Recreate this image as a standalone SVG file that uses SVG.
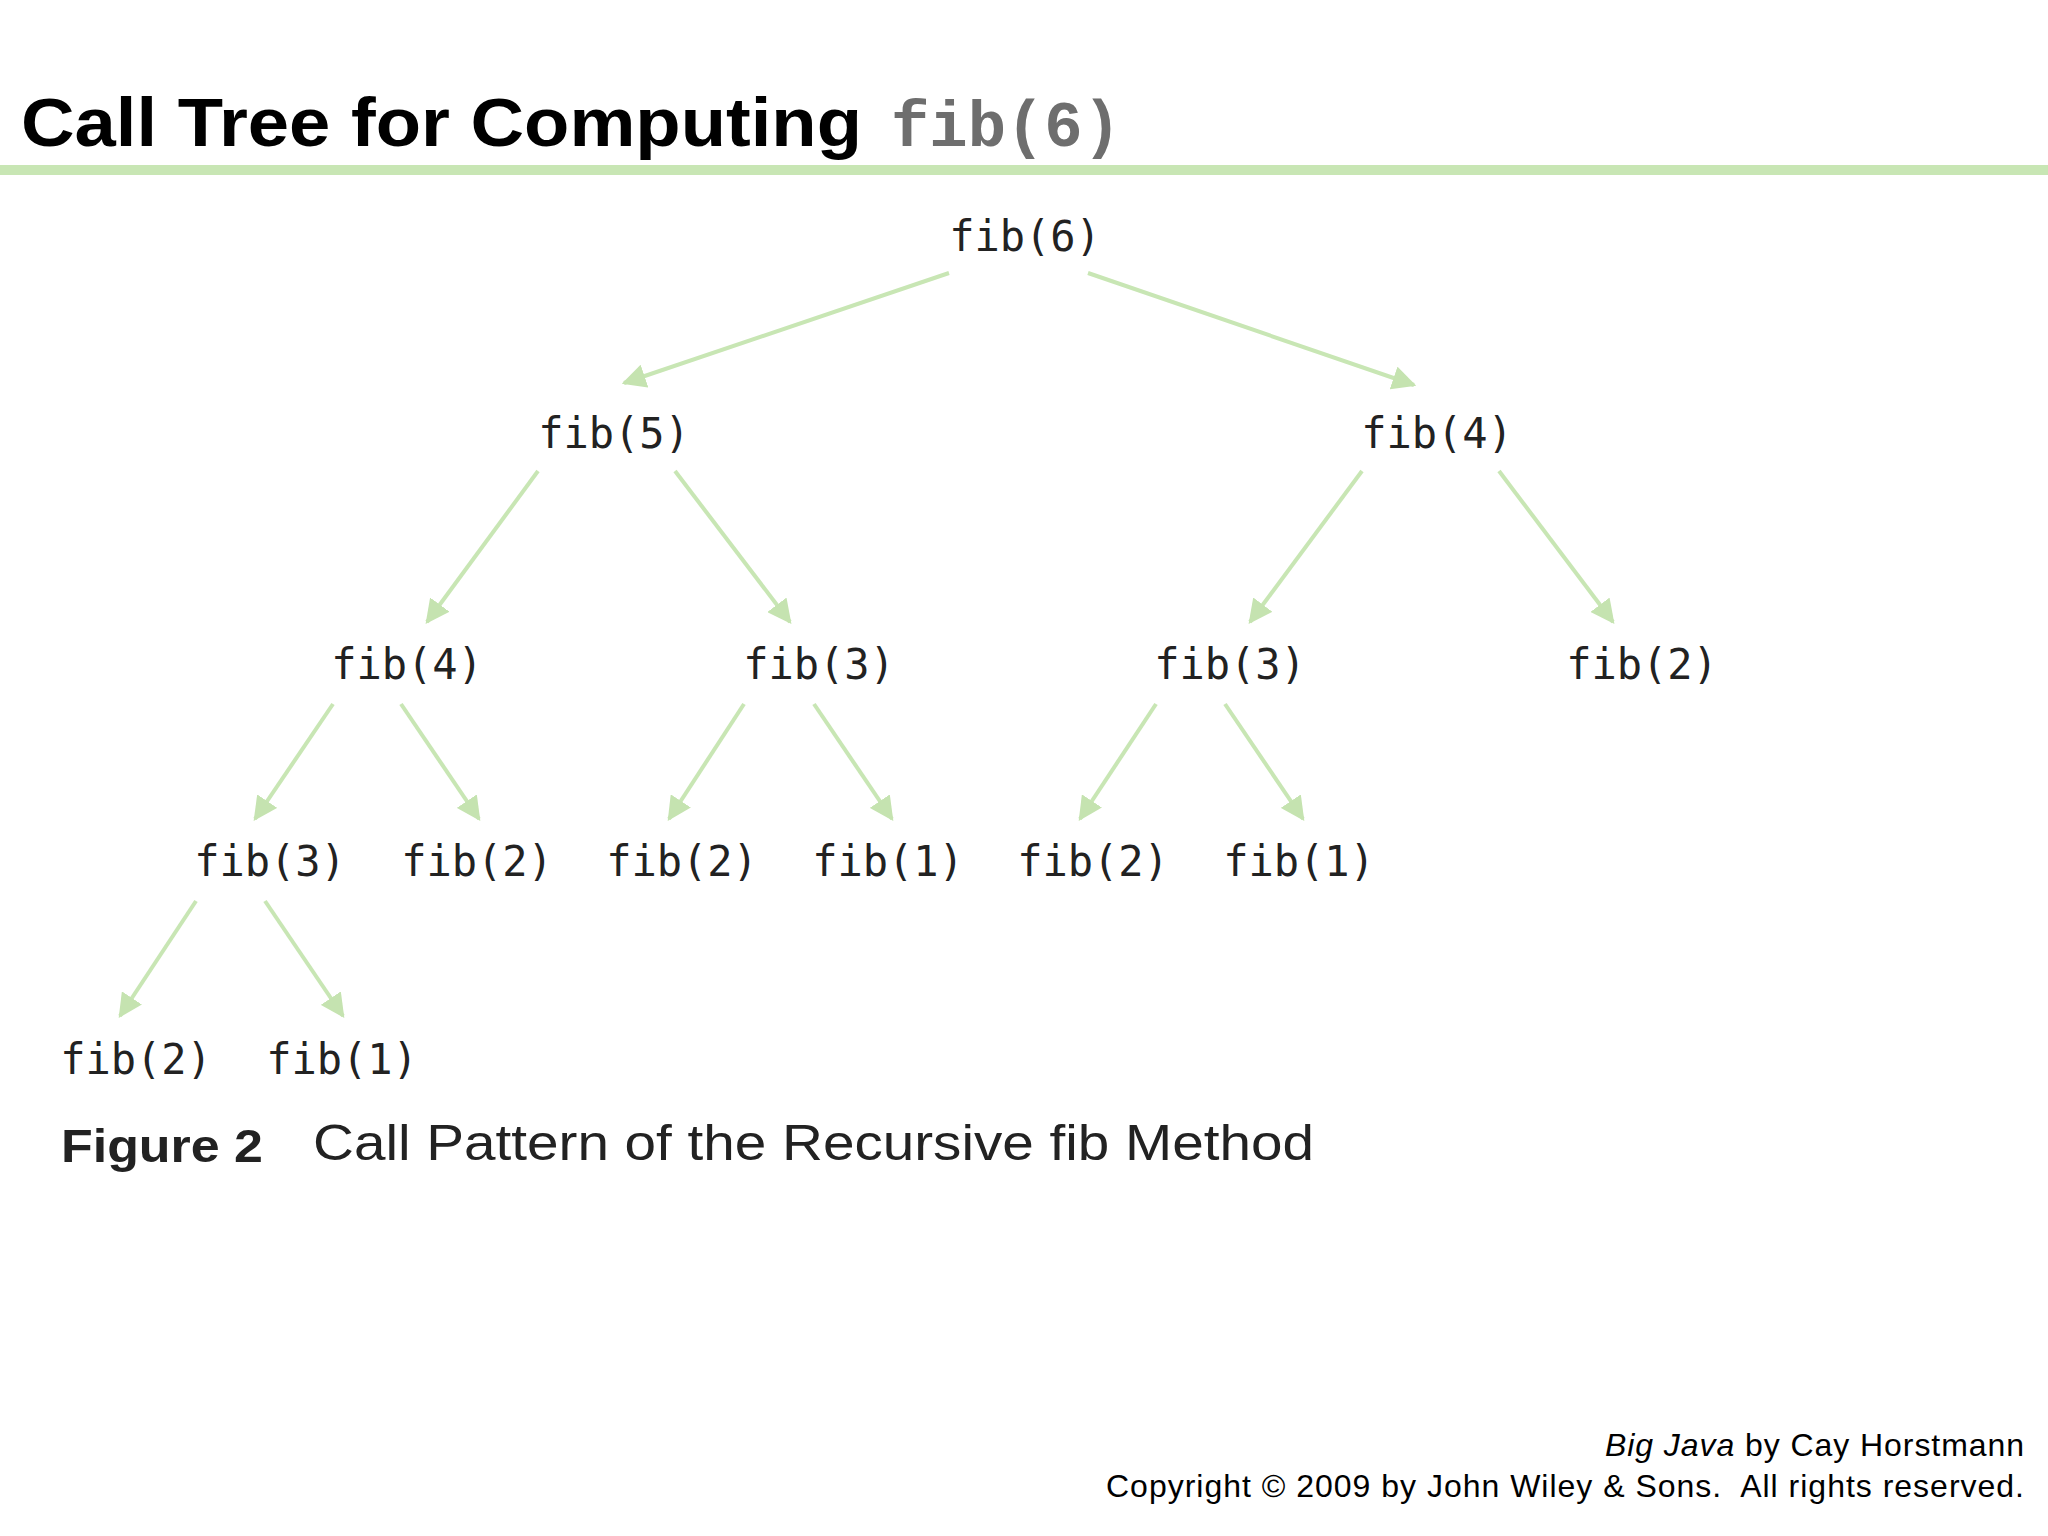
<svg xmlns="http://www.w3.org/2000/svg" width="2048" height="1536" viewBox="0 0 2048 1536">
<defs>
<marker id="ah" viewBox="0 0 10 10" refX="9" refY="5" markerWidth="6" markerHeight="6" orient="auto" markerUnits="strokeWidth">
<path d="M0,0 L10,5 L0,10 z" fill="#c5e3b0"/>
</marker>
<style>
.n{font-family:"DejaVu Sans Mono",monospace;font-size:42px;fill:#222;text-anchor:middle}
.c line{stroke:#c8e6b4;stroke-width:4;marker-end:url(#ah)}
.f{font-family:"Liberation Sans",Arial,sans-serif;font-size:32px;fill:#000;text-anchor:end}
</style>
</defs>
<rect width="2048" height="1536" fill="#fff"/>
<text x="21" y="146" font-family="Liberation Sans,Arial,sans-serif" font-weight="bold" font-size="68" fill="#000" textLength="841" lengthAdjust="spacingAndGlyphs">Call Tree for Computing</text>
<text x="891" y="146" font-family="Liberation Mono,Courier New,monospace" font-weight="bold" font-size="64" fill="#6e6e6e" textLength="230" lengthAdjust="spacingAndGlyphs">fib(6)</text>
<rect x="0" y="165" width="2048" height="10" fill="#c8e6b4"/>
<g class="c">
<line x1="949" y1="273" x2="624" y2="383"/>
<line x1="1088" y1="273" x2="1414" y2="385"/>
<line x1="538" y1="471" x2="427" y2="622"/>
<line x1="675" y1="471" x2="790" y2="622"/>
<line x1="1362" y1="471" x2="1250" y2="622"/>
<line x1="1499" y1="471" x2="1613" y2="622"/>
<line x1="333" y1="704" x2="255" y2="819"/>
<line x1="401" y1="704" x2="479" y2="819"/>
<line x1="744" y1="704" x2="669" y2="819"/>
<line x1="814" y1="704" x2="892" y2="819"/>
<line x1="1156" y1="704" x2="1080" y2="819"/>
<line x1="1225" y1="704" x2="1303" y2="819"/>
<line x1="196" y1="901" x2="120" y2="1016"/>
<line x1="265" y1="901" x2="343" y2="1016"/>
</g>
<g id="n6"><text class="n" x="1025" y="251">fib(6)</text></g>
<g id="n5"><text class="n" x="614" y="448">fib(5)</text></g>
<g id="n4r"><text class="n" x="1437" y="448">fib(4)</text></g>
<g id="n4l"><text class="n" x="407" y="679">fib(4)</text></g>
<g id="n3a"><text class="n" x="819" y="679">fib(3)</text></g>
<g id="n3b"><text class="n" x="1230" y="679">fib(3)</text></g>
<g id="n2a"><text class="n" x="1642" y="679">fib(2)</text></g>
<g id="n3c"><text class="n" x="270" y="876">fib(3)</text></g>
<g id="n2b"><text class="n" x="477" y="876">fib(2)</text></g>
<g id="n2c"><text class="n" x="682" y="876">fib(2)</text></g>
<g id="n1a"><text class="n" x="888" y="876">fib(1)</text></g>
<g id="n2d"><text class="n" x="1093" y="876">fib(2)</text></g>
<g id="n1b"><text class="n" x="1299" y="876">fib(1)</text></g>
<g id="n2e"><text class="n" x="136" y="1074">fib(2)</text></g>
<g id="n1c"><text class="n" x="342" y="1074">fib(1)</text></g>
<text x="61" y="1162" font-family="Liberation Sans,Arial,sans-serif" font-weight="bold" font-size="46" fill="#222" textLength="202" lengthAdjust="spacingAndGlyphs">Figure 2</text>
<text x="313" y="1160" font-family="Liberation Sans,Arial,sans-serif" font-size="50" fill="#222" textLength="1001" lengthAdjust="spacingAndGlyphs">Call Pattern of the Recursive fib Method</text>
<text class="f" x="2024" y="1456" textLength="419"><tspan font-style="italic">Big Java</tspan> by Cay Horstmann</text>
<text class="f" x="2024" y="1497" textLength="918" xml:space="preserve">Copyright © 2009 by John Wiley &amp; Sons.  All rights reserved.</text>
</svg>
